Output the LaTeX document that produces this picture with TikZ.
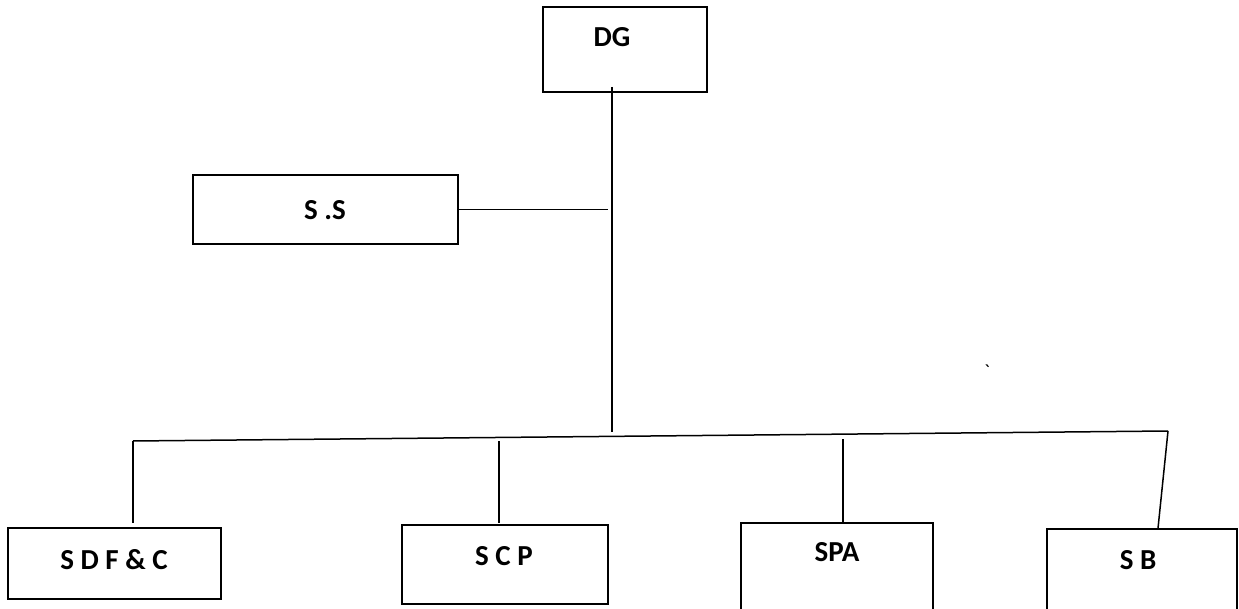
\documentclass[tikz,border=0pt]{standalone}
\usepackage{fontspec}
\setmainfont{Carlito}
\begin{document}
\begin{tikzpicture}[x=1pt,y=-1pt,line width=1.5pt,
  box/.style={draw,rectangle,inner sep=0pt},
  nodes={font=\fontsize{29}{32}\selectfont\bfseries}]
\useasboundingbox (0,0) rectangle (1239,609);
% boxes (centre, size)
\node[box,minimum width=164pt,minimum height=85pt] (dg) at (625,49.5) {};
\node[box,minimum width=265pt,minimum height=69pt] (ss) at (325.5,209.5) {};
\node[box,minimum width=213pt,minimum height=71pt] (sdfc) at (114.5,563.5) {};
\node[box,minimum width=206pt,minimum height=79pt] (scp) at (505,564.5) {};
\node[box,minimum width=192pt,minimum height=100pt] (spa) at (837,573) {};
\node[box,minimum width=190pt,minimum height=94pt] (sb) at (1142,576) {};
% texts
\node (dgt) at (612,37) {DG};
\node (sst) at (325,210) {S .S};
\node (sdfct) at (114,560) {S D F \& C};
\node (scpt) at (504,556) {S C P};
\node (spat) at (837,552) {SPA};
\node (sbt) at (1138,560) {S B};
\node[font=\fontsize{20}{22}\selectfont] (tick) at (987,372) {\textasciigrave};
% trunk and bus
\coordinate (top) at (612,87);
\coordinate (hub) at (612,432);
\coordinate (busl) at (133,441);
\coordinate (busr) at (1168,431);
\draw (top) -- (hub);
\draw (ss.east) -- (ss.east -| 608,0);
\draw (busl) -- (busr);
% drops
\draw (busl) -- ([yshift=4pt]busl |- sdfc.north);
\draw (499,441) -- ([yshift=1pt]scp.north -| 499,0);
\draw (843,439) -- ([yshift=-1pt]spa.north -| 843,0);
\draw (busr) -- (sb.north -| 1158,0);
\end{tikzpicture}
\end{document}
